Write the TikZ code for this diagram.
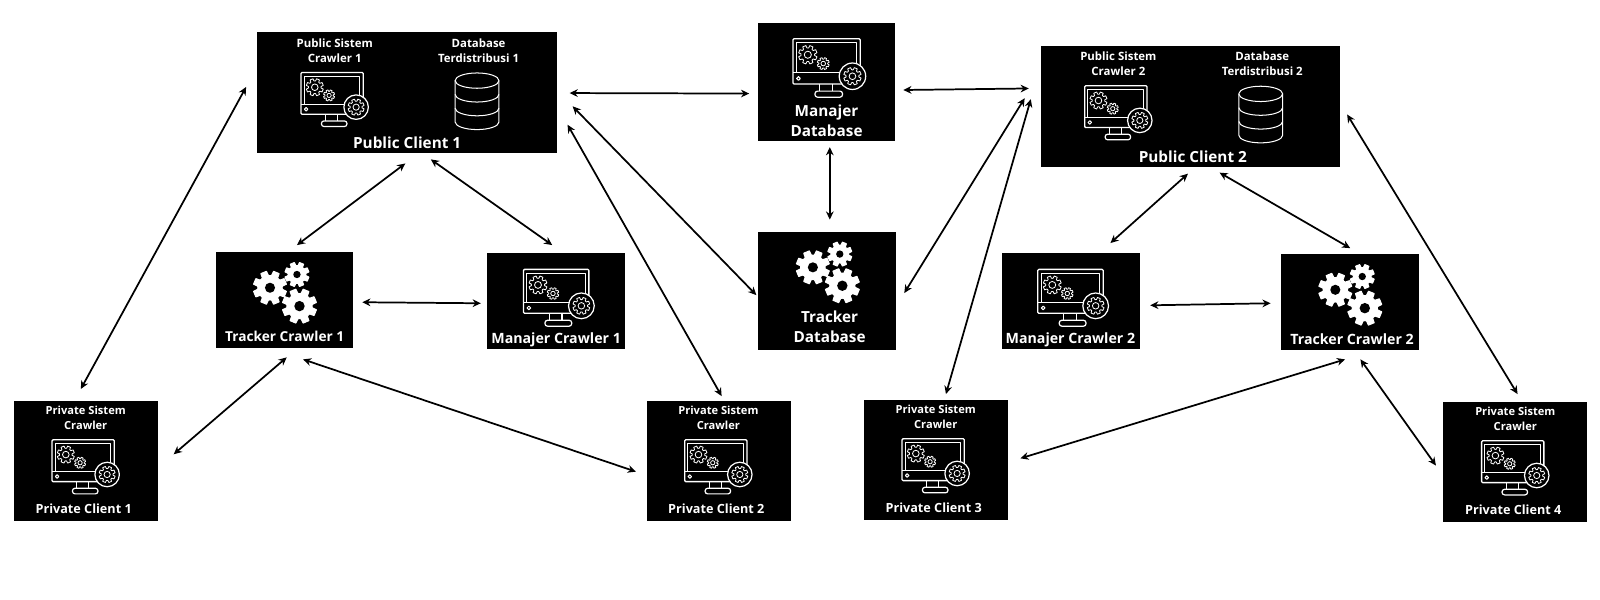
\documentclass[tikz,border=0pt]{standalone}
\usepackage{fontspec}
\setmainfont{Open Sans}
\usetikzlibrary{arrows.meta,calc}
\tikzset{
  x=1pt,y=-1pt,
  panel/.style={fill=black,draw=none,inner sep=0pt,anchor=north west},
  boxtext/.style={text=white,font=\fontsize{#1}{#1}\selectfont\bfseries,align=center,inner sep=0pt},
  link/.style={draw=black,line width=1.7pt,{Stealth[length=8pt,width=7.5pt]}-{Stealth[length=8pt,width=7.5pt]}},
  icon/.style={draw=white,line width=1pt,line join=round},
}
% box: name, left, top, right, bottom
\newcommand{\panelbox}[5]{\path (#2,#3) node[panel,minimum width=#4pt-#2pt,minimum height=#5pt-#3pt] (#1) {};}
% cx cy r teeth
\newcommand{\gearpath}[4]{%
  (#1,#2)++(0:#3*0.72)
  \foreach \k in {1,...,#4}{
    -- ($(#1,#2)+({(\k-1)*360/#4+360/#4*0.16}:#3*0.74)$)
    -- ($(#1,#2)+({(\k-1)*360/#4+360/#4*0.27}:#3)$)
    -- ($(#1,#2)+({(\k-1)*360/#4+360/#4*0.73}:#3)$)
    -- ($(#1,#2)+({(\k-1)*360/#4+360/#4*0.84}:#3*0.74)$)
    -- ($(#1,#2)+({\k*360/#4}:#3*0.72)$)
  } -- cycle}
\newcommand{\solidgear}[3]{%
  \filldraw[fill=white,draw=white,line width=1pt,line join=round] \gearpath{#1}{#2}{#3}{8};
  \fill[black] (#1,#2) circle[radius=#3*0.30];}
\newcommand{\linegear}[3]{%
  \draw[draw=white,line width=0.8pt,line join=round] \gearpath{#1}{#2}{#3}{8};
  \draw[draw=white,line width=0.8pt] (#1,#2) circle[radius=#3*0.38];}
\newcommand{\gearsicon}[2]{%
  \begin{scope}[shift={(#1,#2)}]
    \solidgear{52.6}{35}{16.5}
    \solidgear{79}{22}{12}
    \solidgear{81.5}{53}{17}
  \end{scope}}
\newcommand{\monitoricon}[3]{%
  \begin{scope}[shift={(#1,#2)},scale=#3]
    \draw[icon,line width=1.3pt,rounded corners=1pt] (1,0) rectangle (62,41);
    \draw[icon] (4,3.5) -- (58.5,3.5) -- (58.5,24);
    \draw[icon] (4,3.5) -- (4,31);
    \draw[icon] (1,31) -- (44,31);
    \draw[icon] (6,36) circle[radius=1.7];
    \draw[icon,line width=1.2pt] (25,41) -- (25,47.5);
    \draw[icon,line width=1.2pt] (37,41) -- (37,47.5);
    \draw[icon,line width=1.2pt,rounded corners=2.5pt] (21,47.5) rectangle (46,53);
    \linegear{14.5}{14.5}{8.5}
    \linegear{28.5}{22.5}{5.5}
    \fill[black] (55,34) circle[radius=12];
    \draw[icon,line width=1.2pt] (55,34) circle[radius=12];
    \linegear{55}{34}{8}
  \end{scope}}
\newcommand{\dbicon}[2]{%
  \begin{scope}[shift={(#1,#2)}]
    \draw[icon] (0,0) ellipse[x radius=21.5,y radius=7.5];
    \draw[icon] (-21.5,0) -- (-21.5,40.5) arc[start angle=180,end angle=360,x radius=21.5,y radius=-7.5] -- (21.5,0);
    \draw[icon] (-21.5,13.5) arc[start angle=180,end angle=360,x radius=21.5,y radius=-7.5];
    \draw[icon] (-21.5,27) arc[start angle=180,end angle=360,x radius=21.5,y radius=-7.5];
  \end{scope}}
\begin{document}
\begin{tikzpicture}
\useasboundingbox[fill=white] (0,0) rectangle (1568,588);
% panels
\panelbox{pubA}{252}{31}{546}{150}
\panelbox{mdb}{743}{22}{877}{138}
\panelbox{pubB}{1020}{45}{1313}{163}
\panelbox{tcA}{211.6}{247}{346}{341}
\panelbox{mcA}{477}{248}{612}{342}
\panelbox{tdb}{743}{227}{878}{343}
\panelbox{mcB}{982}{248}{1117}{342}
\panelbox{tcB}{1255}{249}{1390}{343}
\panelbox{prA}{14}{393}{155}{510}
\panelbox{prB}{634}{393}{775}{510}
\panelbox{prC}{846.6}{392}{988}{509}
\panelbox{prD}{1414}{394}{1555}{511}
% icons
\monitoricon{294}{71}{1}
\dbicon{467.5}{79}
\monitoricon{776}{38}{1.08}
\monitoricon{1062}{84}{1}
\dbicon{1235.5}{92}
\monitoricon{512}{264}{1.05}
\monitoricon{1016}{264}{1.05}
\monitoricon{50}{431}{1}
\monitoricon{670}{431}{1}
\monitoricon{883}{430}{1}
\monitoricon{1451}{432}{1}
\gearsicon{212}{247}
\gearsicon{744}{227}
\gearsicon{1256}{249}
% labels
\node[boxtext=11.2] (pubAs) at (328,49.5) {Public Sistem\\[3pt]Crawler 1};
\node[boxtext=11.2] (pubAd) at (469,49.5) {Database\\[3pt]Terdistribusi 1};
\node[boxtext=15] (pubAt) at (399,140) {Public Client 1};
\node[boxtext=15] (mdbt) at (810,118.5) {Manajer\\[5pt]Database};
\node[boxtext=11.2] (pubBs) at (1096,62.5) {Public Sistem\\[3pt]Crawler 2};
\node[boxtext=11.2] (pubBd) at (1237,62.5) {Database\\[3pt]Terdistribusi 2};
\node[boxtext=15] (pubBt) at (1169,154) {Public Client 2};
\node[boxtext=13.4] (tcAt) at (279,329.5) {Tracker Crawler 1};
\node[boxtext=13.9] (mcAt) at (545,333.5) {Manajer Crawler 1};
\node[boxtext=15] (tdbt) at (813,320.5) {Tracker\\[5pt]Database};
\node[boxtext=13.9] (mcBt) at (1049,333.5) {Manajer Crawler 2};
\node[boxtext=13.9] (tcBt) at (1325,332.5) {Tracker Crawler 2};
\node[boxtext=10.9] (prAs) at (84,409.5) {Private Sistem\\[3pt]Crawler};
\node[boxtext=10.9] (prBs) at (704,409.5) {Private Sistem\\[3pt]Crawler};
\node[boxtext=10.9] (prCs) at (917,408.5) {Private Sistem\\[3pt]Crawler};
\node[boxtext=10.9] (prDs) at (1485,410.5) {Private Sistem\\[3pt]Crawler};
\node[boxtext=12.4] (prAt) at (82,498.7) {Private Client 1};
\node[boxtext=12.4] (prBt) at (702,498.7) {Private Client 2};
\node[boxtext=12.4] (prCt) at (915,497.7) {Private Client 3};
\node[boxtext=12.4] (prDt) at (1483,499.7) {Private Client 4};
% connectors: offsets are from the named node's centre
\newcommand{\conn}[6]{\draw[link] ($(#1)+(#2,#3)$) -- ($(#4)+(#5,#6)$);}
\conn{pubA}{159}{0.5}{mdb}{-76}{11.5}
\conn{mdb}{75}{8}{pubB}{-158.5}{-17.5}
\conn{mdb}{3}{64}{tdb}{2.5}{-70}
\conn{pubA}{-158}{-5.5}{prA}{-5.5}{-70.5}
\conn{pubA}{-2}{69.5}{tcA}{12}{-54}
\conn{pubA}{23}{65.5}{mcA}{-3.5}{-55}
\conn{tcA}{76}{2}{mcA}{-73.5}{2}
\conn{tcA}{2}{56}{prA}{85.5}{-6.5}
\conn{tcA}{18}{58}{prB}{-81.5}{10.5}
\conn{pubA}{162}{13.5}{tdb}{-69.5}{4}
\conn{pubA}{157}{31.5}{prB}{2.5}{-63.5}
\conn{pubB}{-162.5}{-8}{tdb}{75.5}{2}
\conn{pubB}{-156.5}{-7}{prC}{9.5}{-64.5}
\conn{pubB}{-2.5}{66}{mcB}{38.5}{-57}
\conn{pubB}{28.5}{65}{tcB}{0.5}{-53}
\conn{mcB}{77.5}{4}{tcB}{-77.5}{1}
\conn{tcB}{-4.5}{56}{prC}{82.5}{-1.5}
\conn{tcB}{10.5}{56}{prD}{-77.5}{3.5}
\conn{pubB}{153.5}{8}{prD}{2.5}{-66.5}
\end{tikzpicture}
\end{document}
